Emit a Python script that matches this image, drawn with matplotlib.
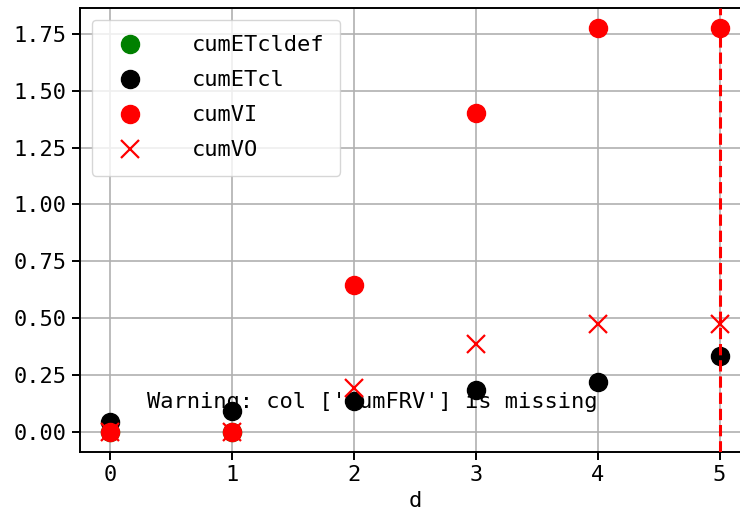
import numpy as np
import matplotlib
matplotlib.use("Agg")
import matplotlib.pyplot as plt

plt.rcParams["font.family"] = ["DejaVu Sans Mono", "Noto Sans CJK SC"]
plt.rcParams["font.size"] = 15.8

d = [0, 1, 2, 3, 4, 5]
cumETcldef = [0.0, 0.0, np.nan, np.nan, np.nan, np.nan]
cumETcl = [0.045, 0.092, 0.137, 0.185, 0.221, 0.332]
cumVI = [0.0, 0.0, 0.647, 1.40, 1.775, 1.775]
cumVO = [0.0, 0.0, 0.193, 0.386, 0.472, 0.475]
yticks = [0.00, 0.25, 0.50, 0.75, 1.00, 1.25, 1.50, 1.75]
warning = "Warning: col ['cumFRV'] is missing"

fig = plt.figure(figsize=(7.4, 5.26), dpi=100)
ax = fig.add_axes([80 / 740, 74 / 526, 670 / 740, 444 / 526])

ax.plot(d, cumETcldef, "o", color="green", ms=13, label="cumETcldef")
ax.plot(d, cumETcl, "o", color="black", ms=13, label="cumETcl")
ax.plot(d, cumVI, "o", color="red", ms=13, label="cumVI")
ax.plot(d, cumVO, "x", color="red", ms=13, mew=1.6, label="cumVO")
ax.axvline(d[-1], color="red", ls="--", lw=2.2, zorder=4)

ax.text(0.1, 0.1, warning, transform=ax.transAxes, zorder=1)

ax.set_yticks(yticks)
ax.set_yticklabels(["%.2f" % v for v in yticks])
ax.set_xticks(d)
ax.set_xlabel("d")
ax.grid(color="#b0b0b0", lw=1.2)
ax.set_axisbelow(True)
for s in ax.spines.values():
    s.set_linewidth(1.4)
ax.tick_params(width=1.4, length=6)

ax.legend(loc="upper left", handlelength=2.05, handletextpad=1.82,
          labelspacing=0.68, borderpad=0.7, borderaxespad=0.55)

fig.savefig("out.png", dpi=100)
